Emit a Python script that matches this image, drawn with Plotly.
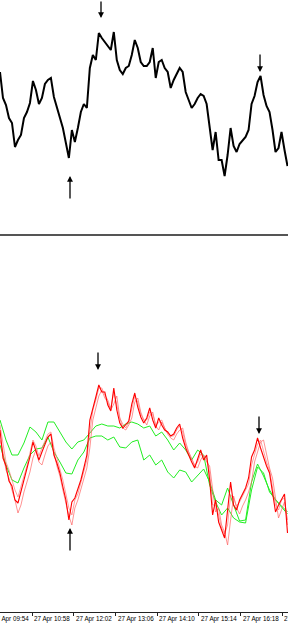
import pandas as pd
import plotly.graph_objects as go

# ---------------- data ----------------
start = pd.Timestamp("2012-04-27 10:08:24")
end = pd.Timestamp("2012-04-27 17:30:46")

price = [168,142,135,122,117,93,100,105,122,128,137,159,150,136,142,156,160,162,143,133,
         124,112,97,82,110,98,112,128,136,132,172,185,180,207,202,198,195,190,208,180,
         170,166,172,174,185,200,192,178,174,174,178,192,162,178,180,172,168,152,160,166,
         172,168,148,140,132,136,142,146,144,136,115,90,108,80,80,64,85,112,94,88,
         96,100,103,110,136,144,158,164,145,134,128,110,88,92,108,90,74]

red_main = [190,162,154,139,134,120,117,128,140,150,163,178,170,160,168,176,183,186,165,157,
            147,133,120,100,118,122,130,140,152,165,200,213,223,235,228,228,215,209,232,210,
            197,192,195,199,216,227,213,203,197,202,212,200,192,202,195,190,188,184,186,192,
            196,182,172,164,158,152,162,170,160,165,140,105,120,98,90,82,110,138,115,110,
            120,126,132,142,163,170,182,172,162,154,147,128,108,115,120,126,87]

red_a = [180,168,150,142,130,120,107,115,128,138,148,162,170,158,155,165,174,178,168,154,
         144,130,117,104,95,112,120,130,142,152,172,200,212,224,230,222,218,210,216,224,
         202,192,190,195,202,218,222,208,200,195,204,208,194,190,198,192,186,182,180,186,
         190,192,178,168,160,154,152,160,165,158,154,130,108,112,95,88,75,100,124,112,
         106,114,120,128,138,158,168,178,180,165,152,142,124,102,110,118,100]

red_b = [195,175,158,150,140,130,123,135,144,154,168,180,174,164,172,180,186,188,172,162,
         152,140,126,112,105,120,126,138,148,160,188,210,220,232,232,225,220,212,228,214,
         202,196,192,198,210,224,218,206,200,200,208,206,195,198,200,192,187,184,184,190,
         194,188,175,168,162,155,158,166,164,162,148,115,115,105,92,86,95,125,122,114,
         118,124,130,136,155,165,176,180,168,158,150,134,115,110,120,122,95]

green_upper = [200,180,165,165,177,193,188,180,198,198,188,178,171,178,180,187,194,196,194,194,
               192,196,198,196,192,194,184,188,180,170,177,170,160,170,165,135,118,105,112,102,
               98,97,130,153,147,128,120,113,106]

green_lower = [175,155,140,137,152,165,171,172,183,168,158,147,146,160,168,182,184,184,180,183,
               173,172,178,180,160,165,155,160,148,142,150,148,138,144,151,138,120,115,132,115,
               99,100,138,156,144,130,120,114,108]

tick_times = ["2012-04-27 09:54", "2012-04-27 10:58", "2012-04-27 12:02", "2012-04-27 13:06",
              "2012-04-27 14:10", "2012-04-27 15:14", "2012-04-27 16:18", "2012-04-27 17:22"]
tick_labels = ["27 Apr 09:54", "27 Apr 10:58", "27 Apr 12:02", "27 Apr 13:06",
               "27 Apr 14:10", "27 Apr 15:14", "27 Apr 16:18", "27 Apr 17:22"]

# arrow marks: (time, tip value, panel, direction)
arrow_times = ["2012-04-27 12:43:32", "2012-04-27 11:55:55", "2012-04-27 16:47:47",
               "2012-04-27 12:38:56", "2012-04-27 16:46:13", "2012-04-27 11:55:55"]
arrow_values = [222, 64, 168, 250, 186, 92]
arrow_panels = ["top", "top", "top", "bottom", "bottom", "bottom"]
arrow_dirs = ["down", "up", "down", "down", "down", "up"]

times = pd.date_range(start, periods=len(price), freq="276s")
times_g = pd.date_range(start, periods=len(green_upper), freq="552s")

# ---------------- figure ----------------
fig = go.Figure()

fig.add_trace(go.Scatter(x=times, y=price, mode="lines", xaxis="x", yaxis="y",
                         line=dict(color="#000000", width=2), hoverinfo="skip"))

for g in (green_upper, green_lower):
    fig.add_trace(go.Scatter(x=times_g, y=g, mode="lines", xaxis="x2", yaxis="y2",
                             line=dict(color="#22ee22", width=1), hoverinfo="skip"))
fig.add_trace(go.Scatter(x=times, y=red_a, mode="lines", xaxis="x2", yaxis="y2",
                         line=dict(color="rgba(255,100,100,0.7)", width=1), hoverinfo="skip"))
fig.add_trace(go.Scatter(x=times, y=red_b, mode="lines", xaxis="x2", yaxis="y2",
                         line=dict(color="rgba(255,120,120,0.7)", width=1), hoverinfo="skip"))
fig.add_trace(go.Scatter(x=times, y=red_main, mode="lines", xaxis="x2", yaxis="y2",
                         line=dict(color="#ff0000", width=1.1), hoverinfo="skip"))

annotations = []
for t, v, p, d in zip(arrow_times, arrow_values, arrow_panels, arrow_dirs):
    annotations.append(dict(
        x=t, y=v, xref="x" if p == "top" else "x2", yref="y" if p == "top" else "y2",
        text="", showarrow=True, ax=0, ay=-19 if d == "down" else 24,
        arrowhead=2, arrowsize=0.9, arrowwidth=1.3, arrowcolor="#000000"))

span = (end - start).total_seconds()
for t, lab in zip(tick_times, tick_labels):
    frac = (pd.Timestamp(t) - start).total_seconds() / span
    annotations.append(dict(
        x=frac, y=0, xref="paper", yref="paper", text=lab, showarrow=False,
        xanchor="left", yanchor="top", xshift=0, yshift=-1,
        font=dict(family="Liberation Sans", size=6.3, color="#000000")))

fig.update_layout(
    width=288, height=625,
    margin=dict(l=0, r=0, t=0, b=13, pad=0),
    paper_bgcolor="#ffffff", plot_bgcolor="#ffffff",
    showlegend=False,
    xaxis=dict(domain=[0, 1], anchor="y", range=[start, end], visible=False),
    yaxis=dict(domain=[379 / 612, 1], anchor="x", range=[7, 240], visible=False),
    xaxis2=dict(domain=[0, 1], anchor="y2", range=[start, end], showgrid=False,
                zeroline=False, showline=True, linecolor="#222222", linewidth=1,
                ticks="outside", ticklen=3, tickcolor="#222222", tickwidth=1,
                tickvals=tick_times, showticklabels=False),
    yaxis2=dict(domain=[0, 376 / 612], anchor="x2", range=[8, 384], visible=False),
    annotations=annotations,
    shapes=[dict(type="line", xref="paper", yref="paper", x0=0, x1=1,
                 y0=(612 - 235) / 612, y1=(612 - 235) / 612,
                 line=dict(color="#555555", width=2))],
)

fig.write_html("out.html")
